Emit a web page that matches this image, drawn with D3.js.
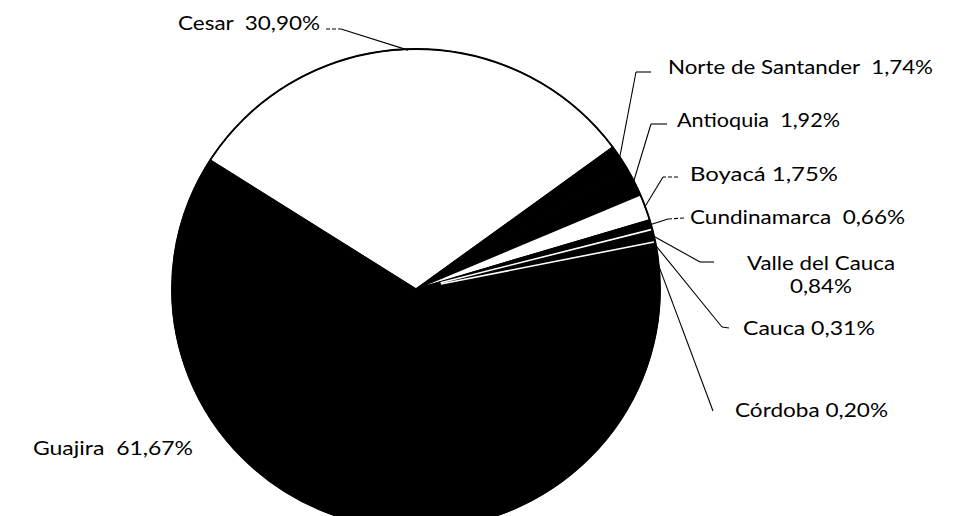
<!DOCTYPE html>
<html>
<head>
<meta charset="utf-8">
<script src="https://cdn.jsdelivr.net/npm/d3@7"></script>
<style>
  html, body { margin: 0; padding: 0; background: #fff; }
  svg { display: block; }
  text { font-family: Lato, "Open Sans", sans-serif; font-size: 18.5px; fill: #000; white-space: pre; }
</style>
</head>
<body>
<svg id="chart" width="957" height="516"></svg>
<script>
// ---- data ----
const categories = ["Cesar", "Norte de Santander", "Antioquia", "Boyacá", "Cundinamarca", "Valle del Cauca", "Cauca", "Córdoba", "Guajira"];
const values = [30.90, 1.74, 1.92, 1.75, 0.66, 0.84, 0.31, 0.20, 61.67];
const labelSeparators = ["  ", "  ", "  ", " ", "  ", "\n", " ", " ", "  "];

// ---- styles ----
const sliceColors = ["#ffffff", "#000000", "#000000", "#ffffff", "#000000", "#000000", "#000000", "#000000", "#000000"];
const whiteEdgeAfter = ["Cundinamarca", "Valle del Cauca"];

// ---- layout ----
const cx = 416, cy = 289, R = 240, stretchX = 244 / 240;
const startDeg = -57.5;
const labelLayout = {
  "Cesar":              { x: 178, y: 30,  anchor: "start",  w: 142, stub: [[326, 29], [341, 29]], dashed: true },
  "Norte de Santander": { x: 668, y: 74,  anchor: "start",  w: 265, stub: [[651, 72], [636, 72]] },
  "Antioquia":          { x: 677, y: 127, anchor: "start",  w: 163, stub: [[667, 124], [651, 124]] },
  "Boyacá":             { x: 690, y: 181, anchor: "start",  w: 148, stub: [[678, 177], [663, 177]], dashed: true },
  "Cundinamarca":       { x: 690, y: 224, anchor: "start",  w: 215, stub: [[684, 218], [668, 219]], dashed: true },
  "Valle del Cauca":    { x: 821, y: 270, anchor: "middle", w: [148, 62], lh: 23, stub: [[714, 262], [700, 262]] },
  "Cauca":              { x: 743, y: 335, anchor: "start",  w: 132, stub: [[729, 328], [722, 327]] },
  "Córdoba":            { x: 735, y: 417, anchor: "start",  w: 153, stub: [[713, 411]], angleShift: 3.5 },
  "Guajira":            { x: 33,  y: 455, anchor: "start",  w: 160, stub: null }
};

const fmt = v => d3.format(".2f")(v).replace(".", ",") + "%";
const color = d3.scaleOrdinal(categories, sliceColors);

const svg = d3.select("#chart");
const rad = d => d * Math.PI / 180;

const pie = d3.pie().sort(null).value(d => d.value)
  .startAngle(rad(startDeg)).endAngle(rad(startDeg) + 2 * Math.PI);
const arcs = pie(categories.map((c, i) => ({ name: c, value: values[i] })));
const arc = d3.arc().innerRadius(0).outerRadius(R);

const g = svg.append("g").attr("transform", `translate(${cx},${cy}) scale(${stretchX},1)`);

g.selectAll("path.slice").data(arcs).join("path")
  .attr("class", "slice")
  .attr("d", arc)
  .attr("fill", d => color(d.data.name))
  .attr("stroke", "#000")
  .attr("stroke-width", 1.2)
  .attr("stroke-linejoin", "round");

// white separators between some dark slices
g.selectAll("line.sep").data(arcs.filter(d => whiteEdgeAfter.includes(d.data.name))).join("line")
  .attr("class", "sep")
  .attr("x1", d => Math.sin(d.endAngle) * 25)
  .attr("y1", d => -Math.cos(d.endAngle) * 25)
  .attr("x2", d => Math.sin(d.endAngle) * (R - 1.2))
  .attr("y2", d => -Math.cos(d.endAngle) * (R - 1.2))
  .attr("stroke", "#fff")
  .attr("stroke-width", 1.6);

// outer outline
g.append("circle").attr("r", R).attr("fill", "none").attr("stroke", "#000").attr("stroke-width", 1.8);

// point on pie edge at angle (screen coords)
const edgePoint = (a, r) => [cx + Math.sin(a) * r * stretchX, cy - Math.cos(a) * r];

// leaders
const leaderG = svg.append("g").attr("fill", "none").attr("stroke", "#000").attr("stroke-width", 1.1);
arcs.forEach(d => {
  const L = labelLayout[d.data.name];
  if (!L || !L.stub) return;
  const mid = (d.startAngle + d.endAngle) / 2 + rad(L.angleShift || 0);
  const end = edgePoint(mid, R - 1);
  const stub = L.stub;
  if (stub.length === 2) {
    leaderG.append("path")
      .attr("d", d3.line()(stub))
      .attr("stroke-dasharray", L.dashed ? "4,2" : null);
  }
  leaderG.append("path").attr("d", d3.line()([stub[stub.length - 1], end]));
});

// labels
const labelG = svg.append("g");
arcs.forEach((d, i) => {
  const L = labelLayout[d.data.name];
  const sep = labelSeparators[i];
  const txt = d.data.name + sep + fmt(d.data.value);
  const lines = txt.split("\n");
  lines.forEach((ln, j) => {
    const t = labelG.append("text")
      .attr("x", L.x)
      .attr("y", L.y + j * (L.lh || 0))
      .attr("text-anchor", L.anchor)
      .text(ln);
    const w = Array.isArray(L.w) ? L.w[j] : L.w;
    if (w) t.attr("textLength", w).attr("lengthAdjust", "spacingAndGlyphs");
  });
});
</script>
</body>
</html>
